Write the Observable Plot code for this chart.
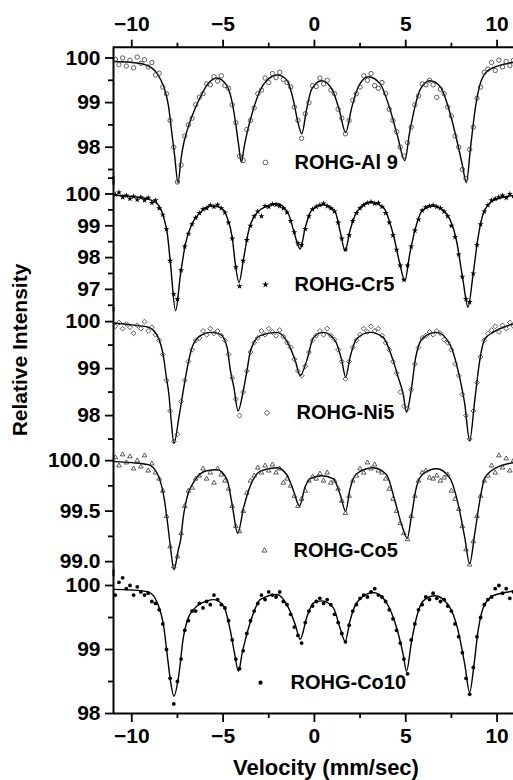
<!DOCTYPE html>
<html><head><meta charset="utf-8">
<script src="https://cdn.jsdelivr.net/npm/d3@7"></script>
<script src="https://cdn.jsdelivr.net/npm/@observablehq/plot@0.6"></script>
<style>
body{margin:0;background:#fff;}
#chart{position:relative;width:513px;height:780px;overflow:hidden;background:#fff;font-family:"Liberation Sans",Arial,sans-serif;font-weight:bold;color:#000;}
#chart svg{position:absolute;left:0;}
#chart svg text{font-weight:bold;}
.ttl{position:absolute;white-space:nowrap;transform:translate(-50%,-50%);}
</style></head><body><div id="chart"></div>
<script>
// ---------------- data ----------------
const sampleNames = ["ROHG-Al 9", "ROHG-Cr5", "ROHG-Ni5", "ROHG-Co5", "ROHG-Co10"];
const xMajorTicks = [-10, -5, 0, 5, 10];
const xMinorTicks = [-7.5, -2.5, 2.5, 7.5];
const yMajorTicks = [[98, 99, 100], [97, 98, 99, 100], [98, 99, 100], [99.0, 99.5, 100.0], [98, 99, 100]];
const yMinorTicks = [[97.5, 98.5, 99.5], [96.5, 97.5, 98.5, 99.5, 100.5], [97.5, 98.5, 99.5], [99.25, 99.75], [98.5, 99.5]];

const velocity = [-10.9,-10.7,-10.5,-10.3,-10.1,-9.9,-9.7,-9.5,-9.3,-9.1,
-8.9,-8.7,-8.5,-8.3,-8.1,-7.9,-7.7,-7.5,-7.3,-7.1,
-6.9,-6.7,-6.5,-6.3,-6.1,-5.9,-5.7,-5.5,-5.3,-5.1,
-4.9,-4.7,-4.5,-4.3,-4.1,-3.9,-3.7,-3.5,-3.3,-3.1,
-2.9,-2.7,-2.5,-2.3,-2.1,-1.9,-1.7,-1.5,-1.3,-1.1,
-0.9,-0.7,-0.5,-0.3,-0.1,0.1,0.3,0.5,0.7,0.9,
1.1,1.3,1.5,1.7,1.9,2.1,2.3,2.5,2.7,2.9,
3.1,3.3,3.5,3.7,3.9,4.1,4.3,4.5,4.7,4.9,
5.1,5.3,5.5,5.7,5.9,6.1,6.3,6.5,6.7,6.9,
7.1,7.3,7.5,7.7,7.9,8.1,8.3,8.5,8.7,8.9,
9.1,9.3,9.5,9.7,9.9,10.1,10.3,10.5,10.7,10.9];

const intensityAl9 = [99.97,99.85,100.0,99.82,99.95,99.78,100.02,99.88,99.96,99.8,
99.9,99.62,99.66,99.35,99.2,98.6,98.0,97.22,97.6,98.25,
98.5,98.65,98.95,99.12,99.2,99.42,99.4,99.58,99.48,99.6,
99.38,99.32,98.95,98.55,97.8,97.7,98.4,98.6,98.88,99.2,
99.28,99.55,99.45,99.65,99.56,99.68,99.52,99.45,99.35,98.9,
98.6,98.2,98.75,99.0,99.38,99.36,99.55,99.42,99.5,99.28,
99.2,98.85,98.65,98.3,98.6,99.05,99.2,99.35,99.6,99.5,
99.65,99.38,99.32,99.45,99.2,98.85,98.6,98.35,98.0,97.8,
98.1,98.45,98.95,99.15,99.42,99.4,99.5,99.4,99.12,99.3,
99.2,98.9,98.7,98.25,98.0,97.5,97.3,97.95,98.45,99.1,
99.35,99.68,99.75,99.9,99.72,99.95,99.8,99.92,99.83,99.95];

const intensityCr5 = [99.98,100.05,99.9,99.95,99.85,99.92,99.82,99.9,99.8,99.88,
99.72,99.8,99.55,99.35,98.9,97.9,96.85,96.7,97.6,98.35,
98.75,99.05,99.25,99.4,99.52,99.55,99.65,99.6,99.66,99.55,
99.42,99.1,98.6,97.7,97.1,97.9,98.55,99.0,99.3,99.45,
99.3,99.62,99.6,99.68,99.66,99.62,99.55,99.42,99.15,98.8,
98.45,98.4,98.9,99.3,99.52,99.6,99.65,99.7,99.62,99.55,
99.45,99.1,98.6,98.25,98.7,99.15,99.4,99.55,99.65,99.72,
99.75,99.7,99.72,99.6,99.4,99.1,98.7,98.25,97.75,97.3,
97.75,98.35,98.85,99.2,99.48,99.58,99.62,99.65,99.6,99.55,
99.45,99.3,99.0,98.65,98.1,97.4,96.7,96.6,97.5,98.4,
99.05,99.45,99.65,99.8,99.85,99.9,99.95,99.88,100.0,99.93];

const intensityNi5 = [99.9,99.98,99.85,99.95,99.88,99.75,99.92,99.85,100.0,99.8,
99.88,99.72,99.6,99.3,98.75,98.1,97.45,97.6,98.3,98.75,
99.15,99.4,99.6,99.65,99.8,99.72,99.85,99.75,99.8,99.7,
99.6,99.3,98.8,98.35,98.0,98.5,98.95,99.35,99.55,99.65,
99.8,99.72,99.85,99.78,99.7,99.82,99.68,99.55,99.45,99.2,
98.95,98.85,99.05,99.35,99.6,99.7,99.8,99.72,99.85,99.7,
99.62,99.4,99.15,98.78,99.15,99.45,99.6,99.72,99.85,99.78,
99.9,99.8,99.85,99.7,99.55,99.4,99.15,98.9,98.5,98.2,
98.15,98.55,99.1,99.45,99.65,99.7,99.78,99.72,99.8,99.75,
99.62,99.55,99.4,99.1,98.85,98.45,98.0,97.5,98.1,98.7,
99.25,99.6,99.75,99.82,99.9,99.78,99.92,99.85,99.98,99.9];

const intensityCo5 = [100.03,99.95,100.06,99.98,100.04,99.92,100.0,99.94,100.05,99.9,
99.97,99.88,99.82,99.7,99.45,99.15,98.95,99.05,99.28,99.55,
99.7,99.73,99.82,99.85,99.92,99.82,99.88,99.78,99.92,99.86,
99.8,99.72,99.55,99.35,99.3,99.5,99.68,99.8,99.85,99.93,
99.88,99.95,99.9,99.96,99.88,99.92,99.78,99.82,99.75,99.65,
99.55,99.62,99.7,99.8,99.84,99.82,99.87,99.8,99.88,99.78,
99.8,99.72,99.6,99.48,99.65,99.8,99.85,99.92,99.88,99.98,
99.92,99.96,99.9,99.88,99.82,99.72,99.62,99.5,99.38,99.28,
99.22,99.45,99.65,99.8,99.88,99.9,99.83,99.82,99.85,99.8,
99.83,99.86,99.7,99.62,99.52,99.35,99.12,98.97,99.2,99.45,
99.65,99.8,99.85,99.95,99.88,100.05,99.93,100.02,99.9,100.0];

const intensityCo10 = [99.85,100.05,100.12,99.95,100.0,99.85,99.98,99.9,99.85,99.88,
99.75,99.72,99.62,99.4,99.0,98.55,98.15,98.5,98.85,99.3,
99.45,99.6,99.6,99.72,99.65,99.75,99.7,99.85,99.78,99.7,
99.65,99.45,99.15,98.85,98.7,98.98,99.25,99.45,99.6,99.72,
99.85,99.78,99.9,99.85,99.82,99.9,99.75,99.7,99.55,99.35,
99.22,99.1,99.42,99.6,99.68,99.75,99.8,99.72,99.78,99.7,
99.55,99.42,99.25,99.12,99.38,99.6,99.7,99.8,99.85,99.82,
99.9,99.95,99.85,99.82,99.75,99.62,99.48,99.3,99.1,98.85,
98.62,99.15,99.4,99.62,99.7,99.82,99.78,99.88,99.8,99.75,
99.78,99.68,99.6,99.4,99.2,98.95,98.55,98.3,98.72,99.2,
99.5,99.7,99.78,99.82,99.95,100.0,99.88,99.95,99.8,99.9];

// fitted curves: [velocity, intensity]
const fitAl9 = [[-11,99.92],[-10,99.9],[-9.2,99.84],[-8.7,99.7],[-8.4,99.5],[-8.2,99.3],[-8.0,98.95],[-7.8,98.3],[-7.65,97.8],[-7.47,97.2],[-7.3,97.75],[-7.15,98.1],[-6.95,98.4],[-6.6,98.8],[-6.25,99.12],[-5.9,99.38],[-5.35,99.55],[-4.8,99.38],[-4.5,99.0],[-4.3,98.5],[-4.15,98.05],[-4.0,97.66],[-3.85,98.0],[-3.7,98.3],[-3.45,98.7],[-3.0,99.25],[-2.6,99.5],[-2.0,99.62],[-1.5,99.5],[-1.15,99.05],[-0.9,98.55],[-0.69,98.3],[-0.45,98.8],[-0.15,99.3],[0.4,99.49],[1.0,99.27],[1.35,98.85],[1.71,98.33],[2.05,98.9],[2.4,99.35],[2.95,99.58],[3.6,99.42],[4.1,98.9],[4.55,98.25],[4.95,97.7],[5.2,98.3],[5.5,98.9],[5.8,99.3],[6.33,99.49],[6.9,99.35],[7.4,98.8],[7.8,98.15],[8.1,97.6],[8.32,97.21],[8.55,98.0],[8.8,98.85],[9.05,99.38],[9.4,99.68],[10.1,99.83],[10.9,99.9]];
const fitCr5 = [[-11,99.97],[-10,99.92],[-9.1,99.84],[-8.6,99.69],[-8.25,99.26],[-8.05,98.74],[-7.88,97.8],[-7.6,96.33],[-7.33,97.48],[-7.06,98.43],[-6.7,99.06],[-6.24,99.42],[-5.7,99.63],[-5.15,99.58],[-4.78,99.26],[-4.5,98.63],[-4.33,97.8],[-4.13,97.22],[-3.87,98.0],[-3.6,98.85],[-3.15,99.4],[-2.6,99.62],[-2.05,99.7],[-1.42,99.37],[-1.14,98.85],[-0.78,98.27],[-0.5,98.95],[-0.14,99.5],[0.49,99.66],[1.13,99.45],[1.4,98.85],[1.68,98.22],[1.95,98.85],[2.31,99.42],[3.04,99.74],[3.77,99.58],[4.31,98.74],[4.68,97.8],[4.95,97.27],[5.22,98.11],[5.5,98.85],[5.87,99.45],[6.51,99.63],[7.24,99.37],[7.78,98.53],[8.14,97.27],[8.41,96.44],[8.69,97.48],[8.96,98.63],[9.24,99.37],[9.78,99.79],[10.9,99.95]];
const fitNi5 = [[-11,99.97],[-10,99.93],[-9.1,99.88],[-8.6,99.7],[-8.25,99.22],[-8.1,98.8],[-7.97,98.46],[-7.84,97.89],[-7.69,97.41],[-7.42,97.96],[-7.18,98.53],[-6.97,99.0],[-6.7,99.45],[-6.24,99.7],[-5.7,99.77],[-5.15,99.73],[-4.78,99.45],[-4.6,98.96],[-4.41,98.6],[-4.18,98.1],[-3.9,98.52],[-3.69,98.96],[-3.5,99.38],[-2.97,99.7],[-2.05,99.77],[-1.42,99.52],[-1.05,99.17],[-0.78,98.85],[-0.42,99.17],[-0.05,99.66],[0.49,99.77],[1.13,99.6],[1.5,99.17],[1.71,98.82],[1.95,99.24],[2.31,99.63],[3.04,99.77],[3.77,99.66],[4.31,99.17],[4.6,98.8],[4.86,98.46],[5.04,98.07],[5.32,98.6],[5.55,99.25],[5.96,99.66],[6.69,99.77],[7.41,99.52],[7.9,98.9],[8.23,98.25],[8.5,97.47],[8.78,98.33],[9.05,99.17],[9.33,99.63],[9.78,99.77],[10.9,99.95]];
const fitCo5 = [[-11,99.99],[-10,99.98],[-9.1,99.96],[-8.6,99.87],[-8.24,99.64],[-8.06,99.41],[-7.88,99.14],[-7.69,98.92],[-7.45,99.12],[-7.33,99.21],[-7.18,99.44],[-6.97,99.64],[-6.6,99.79],[-5.9,99.9],[-5.33,99.91],[-4.78,99.81],[-4.51,99.57],[-4.2,99.28],[-3.87,99.54],[-3.51,99.75],[-2.9,99.9],[-2.05,99.93],[-1.51,99.86],[-1.14,99.7],[-0.82,99.55],[-0.51,99.74],[-0.14,99.83],[0.4,99.85],[1.04,99.82],[1.4,99.67],[1.71,99.5],[1.95,99.72],[2.31,99.87],[3.22,99.93],[3.95,99.86],[4.41,99.6],[4.77,99.37],[5.08,99.23],[5.32,99.46],[5.59,99.74],[5.96,99.87],[6.69,99.92],[7.41,99.83],[7.87,99.57],[8.23,99.24],[8.5,98.98],[8.78,99.28],[9.05,99.6],[9.33,99.83],[9.97,99.93],[10.9,99.98]];
const fitCo10 = [[-11,99.94],[-10,99.93],[-9.1,99.9],[-8.6,99.73],[-8.24,99.34],[-8.06,98.92],[-7.88,98.51],[-7.69,98.27],[-7.42,98.61],[-7.18,99.18],[-6.97,99.45],[-6.6,99.63],[-5.88,99.76],[-5.5,99.78],[-4.97,99.68],[-4.6,99.29],[-4.38,98.95],[-4.16,98.66],[-3.95,98.95],[-3.8,99.13],[-3.4,99.52],[-2.97,99.78],[-2.05,99.86],[-1.42,99.65],[-1.05,99.39],[-0.78,99.16],[-0.42,99.5],[-0.05,99.73],[0.4,99.76],[1.04,99.65],[1.4,99.34],[1.68,99.13],[1.95,99.45],[2.31,99.73],[3.22,99.89],[3.95,99.73],[4.5,99.34],[4.86,98.92],[5.04,98.66],[5.32,99.13],[5.59,99.5],[5.96,99.76],[6.6,99.84],[7.32,99.7],[7.87,99.29],[8.23,98.77],[8.5,98.33],[8.72,98.72],[8.96,99.29],[9.24,99.65],[9.78,99.84],[10.9,99.91]];

const intensities = [intensityAl9, intensityCr5, intensityNi5, intensityCo5, intensityCo10];
const fits = [fitAl9, fitCr5, fitNi5, fitCo5, fitCo10];

// ---------------- layout / style ----------------
const W = 513, H = 780, ML = 113;
const xDomain = [-11, 10.9];
const layout = [
  {y100: 57.5, ppu: 44.6, lo: 97.15, hi: 100.242, dec: 0, legend: [152, 115.3, 181]},
  {y100: 193.3, ppu: 31.8, lo: 96.3, hi: 100.55, dec: 0, legend: [152, 108.2, 181]},
  {y100: 321, ppu: 47, lo: 97.3, hi: 100.3, dec: 0, legend: [153.5, 105.4, 183]},
  {y100: 460, ppu: 101, lo: 98.85, hi: 100.12, dec: 1, legend: [151, 102.1, 180]},
  {y100: 584.5, ppu: 64, lo: 98.0, hi: 100.25, dec: 0, legend: [147, 113.2, 177]}
];
const markers = [
  {symbol: "circle", fill: "none", stroke: "#3a3a3a", strokeWidth: 0.8, r: 2.2},
  {symbol: "star", fill: "#000", stroke: "none", strokeWidth: 0, r: 1.9},
  {symbol: "diamond2", fill: "none", stroke: "#333", strokeWidth: 0.8, r: 2.2},
  {symbol: "triangle2", fill: "none", stroke: "#333", strokeWidth: 0.8, r: 2.2},
  {symbol: "circle", fill: "#000", stroke: "none", strokeWidth: 0, r: 1.9}
];

const chart = document.getElementById("chart");
const font = '"Liberation Sans", Arial, sans-serif';

layout.forEach((L, i) => {
  const isTop = i === 0, isBottom = i === layout.length - 1;
  const plotTop = L.y100 - (L.hi - 100) * L.ppu;
  const plotBottom = L.y100 + (100 - L.lo) * L.ppu;
  const mt = isTop ? plotTop : 0;
  const mb = isBottom ? H - plotBottom : 0;
  const height = mt + (plotBottom - plotTop) + mb;
  const pts = velocity.map((v, k) => ({v, val: intensities[i][k]}));
  const m = markers[i];
  const marks = [
    Plot.line(fits[i], {x: d => d[0], y: d => d[1], curve: "monotone-x", stroke: "#000", strokeWidth: 1.4}),
    Plot.dot(pts, {x: "v", y: "val", symbol: () => m.symbol, r: m.r, fill: m.fill, stroke: m.stroke, strokeWidth: m.strokeWidth}),
    Plot.ruleX([xDomain[0]], {stroke: "#000", strokeWidth: 2}),
    Plot.axisY({anchor: "left", ticks: yMajorTicks[i], tickSize: 8, tickPadding: 5, strokeWidth: 1.8,
      tickFormat: d => d.toFixed(L.dec), label: null, fontSize: 21, fontWeight: "bold"}),
    Plot.axisY({anchor: "left", ticks: yMinorTicks[i], tickSize: 5, strokeWidth: 1.8, tickFormat: () => "", label: null}),
    Plot.dot([0], {frameAnchor: "top-left", dx: L.legend[0], dy: L.legend[1], symbol: () => m.symbol, r: m.r + 0.2, fill: m.fill, stroke: m.stroke, strokeWidth: m.strokeWidth}),
    Plot.text([sampleNames[i]], {frameAnchor: "top-left", dx: L.legend[2], dy: L.legend[1], text: d => d, textAnchor: "start", lineAnchor: "middle", fontSize: 20, fontWeight: "bold"})
  ];
  if (isTop) {
    marks.push(
      Plot.ruleY([L.hi], {stroke: "#000", strokeWidth: 2}),
      Plot.axisX({anchor: "top", ticks: xMajorTicks, tickSize: 8, tickPadding: 8, strokeWidth: 1.8, label: null, fontSize: 21, fontWeight: "bold"}),
      Plot.axisX({anchor: "top", ticks: xMinorTicks, tickSize: 5, strokeWidth: 1.8, tickFormat: () => "", label: null})
    );
  }
  if (isBottom) {
    marks.push(
      Plot.ruleY([L.lo], {stroke: "#000", strokeWidth: 2}),
      Plot.axisX({anchor: "bottom", ticks: xMajorTicks, tickSize: 9, tickPadding: 6, strokeWidth: 1.8, label: null, fontSize: 21, fontWeight: "bold"}),
      Plot.axisX({anchor: "bottom", ticks: xMinorTicks, tickSize: 5, strokeWidth: 1.8, tickFormat: () => "", label: null})
    );
  }
  const svg = Plot.plot({
    width: W, height,
    marginLeft: ML, marginRight: 0, marginTop: mt, marginBottom: mb,
    x: Object.assign({domain: xDomain}, (isTop || isBottom) ? {} : {axis: null}),
    y: {domain: [L.lo, L.hi]},
    style: {background: "transparent", overflow: "visible", fontFamily: font, fontSize: "21px", fontWeight: "bold", color: "#000"},
    marks
  });
  svg.style.position = "absolute";
  svg.style.top = (plotTop - mt) + "px";
  svg.style.left = "0px";
  svg.style.maxWidth = "none";
  chart.appendChild(svg);
});

const yTitle = document.createElement("div");
yTitle.className = "ttl";
yTitle.textContent = "Relative Intensity";
Object.assign(yTitle.style, {left: "20px", top: "350px", fontSize: "21px", transform: "translate(-50%,-50%) rotate(-90deg)"});
chart.appendChild(yTitle);

const xTitle = document.createElement("div");
xTitle.className = "ttl";
xTitle.textContent = "Velocity (mm/sec)";
Object.assign(xTitle.style, {left: "326px", top: "768px", fontSize: "22px"});
chart.appendChild(xTitle);
</script>
</body></html>
